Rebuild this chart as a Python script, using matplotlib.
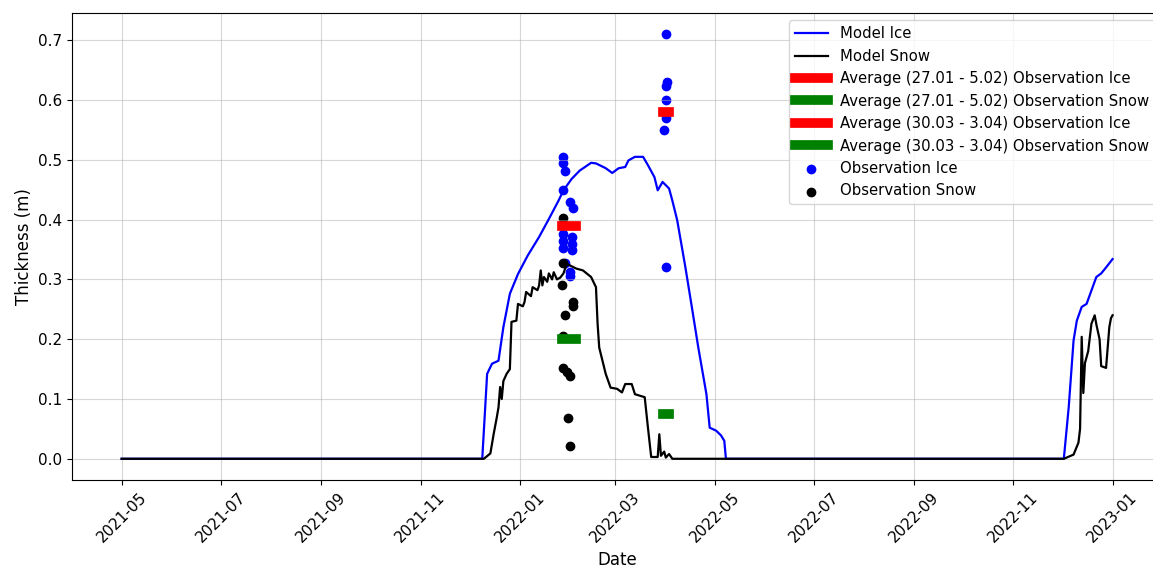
import pandas as pd
import matplotlib
matplotlib.use("Agg")
import matplotlib.pyplot as plt
import matplotlib.dates as mdates

# Model ice thickness (m)
ice_dates = ["2021-05-01", "2021-12-09", "2021-12-12", "2021-12-15", "2021-12-19", "2021-12-22",
             "2021-12-26", "2021-12-31", "2022-01-06", "2022-01-13", "2022-01-19", "2022-01-25",
             "2022-01-28", "2022-02-02", "2022-02-07", "2022-02-14", "2022-02-17", "2022-02-23",
             "2022-02-27", "2022-03-03", "2022-03-07", "2022-03-09", "2022-03-13", "2022-03-18",
             "2022-03-21", "2022-03-25", "2022-03-27", "2022-03-30", "2022-04-03", "2022-04-05",
             "2022-04-08", "2022-04-13", "2022-04-17", "2022-04-21", "2022-04-26", "2022-04-28",
             "2022-05-02", "2022-05-05", "2022-05-07", "2022-05-08", "2022-12-02", "2022-12-05",
             "2022-12-08", "2022-12-10", "2022-12-13", "2022-12-16", "2022-12-22", "2022-12-25",
             "2022-12-28", "2023-01-01"]
ice_model = [0.0, 0.0, 0.142, 0.159, 0.164, 0.22,
             0.276, 0.309, 0.34, 0.371, 0.401, 0.432,
             0.449, 0.468, 0.482, 0.495, 0.494, 0.486,
             0.478, 0.486, 0.488, 0.499, 0.505, 0.505,
             0.491, 0.471, 0.449, 0.463, 0.452, 0.432,
             0.399, 0.321, 0.254, 0.186, 0.108, 0.052,
             0.047, 0.039, 0.030, 0.0, 0.0, 0.086,
             0.198, 0.231, 0.254, 0.259, 0.304, 0.31,
             0.32, 0.334]

# Model snow thickness (m)
snow_dates = ["2021-05-01", "2021-12-10", "2021-12-14", "2021-12-16", "2021-12-18", "2021-12-19",
              "2021-12-20", "2021-12-21", "2021-12-22", "2021-12-24", "2021-12-26", "2021-12-27",
              "2021-12-30", "2021-12-31", "2022-01-03", "2022-01-04", "2022-01-05", "2022-01-08",
              "2022-01-09", "2022-01-12", "2022-01-13", "2022-01-14", "2022-01-15", "2022-01-16",
              "2022-01-18", "2022-01-19", "2022-01-21", "2022-01-22", "2022-01-24", "2022-01-26",
              "2022-01-28", "2022-01-30", "2022-02-05", "2022-02-09", "2022-02-14", "2022-02-17",
              "2022-02-18", "2022-02-19", "2022-02-21", "2022-02-23", "2022-02-26", "2022-03-02",
              "2022-03-05", "2022-03-07", "2022-03-11", "2022-03-13", "2022-03-19", "2022-03-21",
              "2022-03-23", "2022-03-27", "2022-03-28", "2022-03-29", "2022-03-31", "2022-04-01",
              "2022-04-03", "2022-04-05", "2022-12-02", "2022-12-08", "2022-12-11", "2022-12-12",
              "2022-12-13", "2022-12-14", "2022-12-15", "2022-12-17", "2022-12-19", "2022-12-21",
              "2022-12-22", "2022-12-24", "2022-12-25", "2022-12-28", "2022-12-30", "2022-12-31",
              "2023-01-01"]
snow_model = [0.0, 0.0, 0.009, 0.041, 0.07, 0.086,
              0.12, 0.10, 0.13, 0.142, 0.15, 0.229,
              0.231, 0.259, 0.255, 0.262, 0.279, 0.272,
              0.287, 0.282, 0.29, 0.315, 0.29, 0.304,
              0.296, 0.31, 0.30, 0.312, 0.300, 0.303,
              0.31, 0.326, 0.318, 0.315, 0.304, 0.287,
              0.226, 0.186, 0.164, 0.142, 0.119, 0.117,
              0.111, 0.125, 0.125, 0.108, 0.103, 0.052,
              0.003, 0.003, 0.041, 0.005, 0.012, 0.002,
              0.008, 0.0, 0.0, 0.007, 0.027, 0.05,
              0.204, 0.11, 0.16, 0.18, 0.226, 0.24,
              0.225, 0.20, 0.155, 0.152, 0.22, 0.235,
              0.24]

# Observations
obs_ice_dates = ["2022-01-28", "2022-01-28", "2022-01-29", "2022-01-28", "2022-02-01", "2022-02-03",
                 "2022-01-28", "2022-02-02", "2022-01-28", "2022-02-02", "2022-01-28", "2022-02-02",
                 "2022-01-29", "2022-02-01", "2022-02-01",
                 "2022-04-01", "2022-04-02", "2022-04-01", "2022-04-01", "2022-04-01", "2022-03-31",
                 "2022-04-01"]
obs_ice = [0.505, 0.495, 0.481, 0.45, 0.43, 0.419,
           0.376, 0.371, 0.365, 0.36, 0.352, 0.349,
           0.327, 0.313, 0.305,
           0.71, 0.63, 0.623, 0.60, 0.57, 0.55,
           0.32]

obs_snow_dates = ["2022-01-28", "2022-01-28", "2022-01-27", "2022-02-03", "2022-02-03", "2022-01-29",
                  "2022-01-28", "2022-01-28", "2022-01-30", "2022-02-01", "2022-01-31", "2022-02-01"]
obs_snow = [0.402, 0.328, 0.291, 0.263, 0.255, 0.24,
            0.206, 0.151, 0.145, 0.139, 0.069, 0.022]

# Period averages of the observations
avg_periods = [("2022-01-27", "2022-02-05"), ("2022-03-30", "2022-04-03")]
avg_labels = ["27.01 - 5.02", "30.03 - 3.04"]
avg_ice = [0.39, 0.58]
avg_snow = [0.20, 0.075]

fig = plt.figure(figsize=(11.53, 5.69), dpi=100)
ax = fig.add_axes([0.0625, 0.1564, 0.9454, 0.8207])

ax.plot(pd.to_datetime(ice_dates), ice_model, color="blue", linewidth=1.6, label="Model Ice")
ax.plot(pd.to_datetime(snow_dates), snow_model, color="black", linewidth=1.6, label="Model Snow")

ax.scatter(pd.to_datetime(obs_ice_dates), obs_ice, color="blue", label="Observation Ice")
ax.scatter(pd.to_datetime(obs_snow_dates), obs_snow, color="black", label="Observation Snow")

for (start, end), lab, vi, vs in zip(avg_periods, avg_labels, avg_ice, avg_snow):
    period = pd.to_datetime([start, end])
    ax.plot(period, [vi, vi], color="red", linewidth=7,
            label=f"Average ({lab}) Observation Ice")
    ax.plot(period, [vs, vs], color="green", linewidth=7,
            label=f"Average ({lab}) Observation Snow")

ax.xaxis.set_major_locator(mdates.MonthLocator(bymonth=[1, 3, 5, 7, 9, 11]))
ax.xaxis.set_major_formatter(mdates.DateFormatter("%Y-%m"))
plt.setp(ax.get_xticklabels(), rotation=45)
ax.tick_params(labelsize=11)

ax.set_xlabel("Date", fontsize=12)
ax.set_ylabel("Thickness (m)", fontsize=12)
ax.grid(True, alpha=0.5)

# lines first, then the observation dots
handles, labels = ax.get_legend_handles_labels()
order = [0, 1, 4, 5, 6, 7, 2, 3]
ax.legend([handles[i] for i in order], [labels[i] for i in order],
          loc="upper right", fontsize=10.7, handlelength=2.2)

fig.savefig("out.png", dpi=100)
